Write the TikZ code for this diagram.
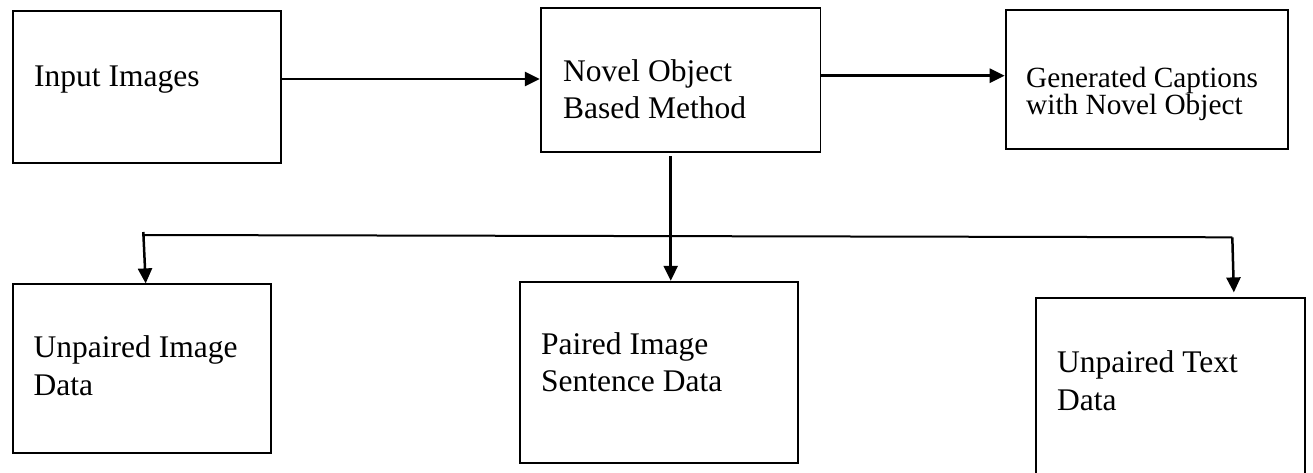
\documentclass[tikz,border=0pt]{standalone}
\usepackage{fontspec}
\setmainfont{Liberation Serif}
\usetikzlibrary{arrows.meta}
\begin{document}
\begin{tikzpicture}[x=1pt,y=-1pt,
  box/.style={draw=black, line width=1.8pt, inner sep=0pt},
  lbl/.style={anchor=base west, inner sep=0pt, font=\fontsize{31.5}{37}\selectfont},
  lblsmall/.style={anchor=base west, inner sep=0pt, font=\fontsize{29.3}{27}\selectfont},
  link/.style={line width=2.5pt, -{Triangle[length=15pt,width=14pt]}},
  wire/.style={line width=2pt}]
\useasboundingbox (0,0) rectangle (1313,472);
\clip (0,0) rectangle (1313,472);

% boxes
\node[box, minimum width=267.8pt, minimum height=152.3pt] (b1) at (146.8,87.15) {};
\node[box, minimum width=279.8pt, minimum height=144.3pt] (b2) at (680.6,80.15) {};
\node[box, minimum width=282.4pt, minimum height=139pt]   (b3) at (1146.8,79.2) {};
\node[box, minimum width=258.3pt, minimum height=169pt]   (b4) at (141.85,368.8) {};
\node[box, minimum width=277.7pt, minimum height=181pt]   (b5) at (658.85,372.2) {};
\node[box, minimum width=269.3pt, minimum height=190pt]   (b6) at (1170.65,393.3) {};

% labels
\node[lbl] (t1) at (34,86) {Input Images};
\node[lbl] (t2a) at (563,81.5) {Novel Object};
\node[lbl] (t2b) at (563,118.3) {Based Method};
\node[lblsmall] (t3a) at (1026,87.5) {Generated Captions};
\node[lblsmall] (t3b) at (1026,114.3) {with Novel Object};
\node[lbl] (t4a) at (33.5,357.5) {Unpaired Image};
\node[lbl] (t4b) at (33.5,395) {Data};
\node[lbl] (t5a) at (541,354) {Paired Image};
\node[lbl] (t5b) at (541,391.5) {Sentence Data};
\node[lbl] (t6a) at (1057,372.5) {Unpaired Text};
\node[lbl] (t6b) at (1057,410) {Data};

% top row flow
\draw[link] (b1.east |- 0,79) -- (b2.west |- 0,79);
\draw[link] (b2.east |- 0,75.7) -- (b3.west |- 0,75.7);

% distribution to the data sources
\coordinate (hubL) at (143.3,232);
\coordinate (hubR) at (1232.3,237.3);
\draw[wire] (143.3,235) -- (hubR);
\draw[link] (hubL) -- (b4.north -| 145.7,0);
\draw[link, shorten <=3pt] (b2.south -| 670.7,0) -- (b5.north -| 670.7,0);
\draw[link, shorten >=5pt] (hubR) -- (b6.north -| 1234,0);
\end{tikzpicture}
\end{document}
